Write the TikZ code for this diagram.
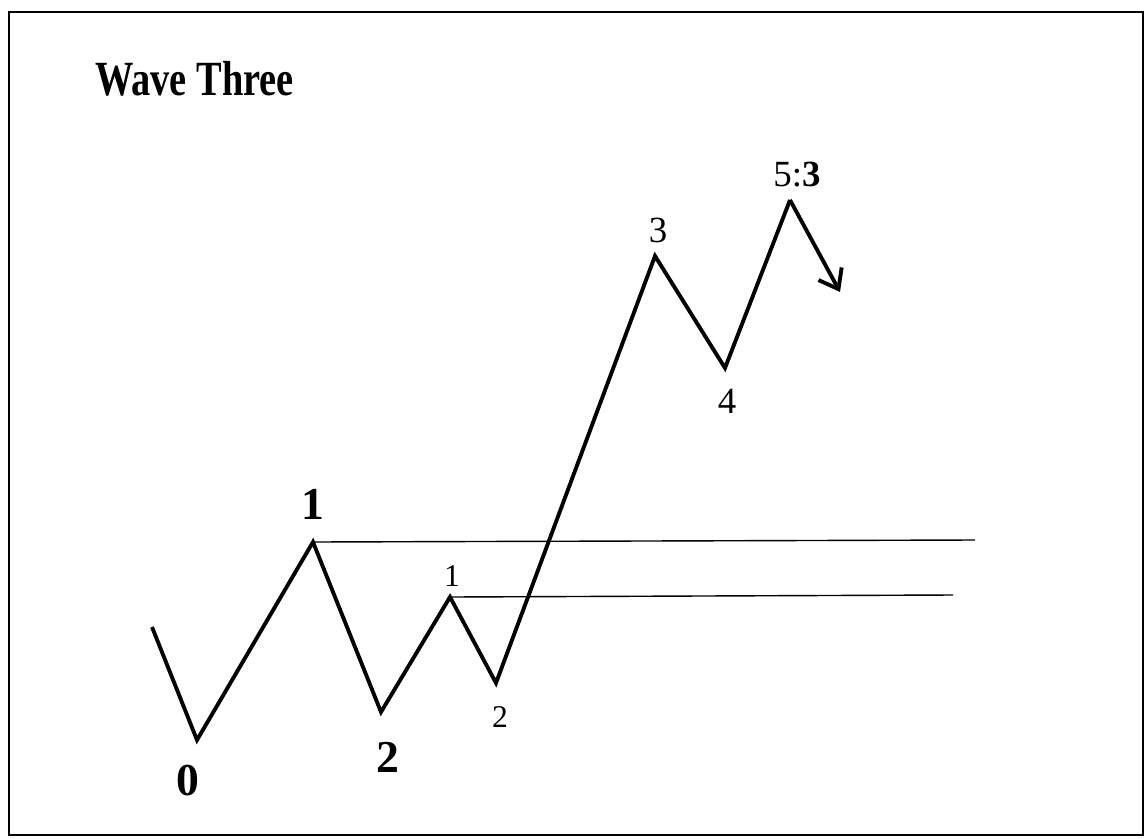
\documentclass[tikz,border=0pt]{standalone}
\usepackage{fontspec}
\setmainfont{Liberation Serif}
\usetikzlibrary{arrows.meta}

\begin{document}
\begin{tikzpicture}[
        x=0.02cm,
        y=-0.02cm,
        wave/.style={
            line width=2.2pt,
            line join=miter
        },
        level/.style={
            line width=0.8pt
        },
        biglabel/.style={
            font=\fontsize{26}{29}\selectfont\bfseries,
            inner sep=0pt
        },
        midlabel/.style={
            font=\fontsize{21}{24}\selectfont,
            inner sep=0pt
        },
        smalllabel/.style={
            font=\fontsize{18}{21}\selectfont,
            inner sep=0pt
        }
    ]
        \useasboundingbox (0,0) rectangle (1145,838);
        \draw[line width=1.2pt] (9,12) rectangle (1143,835);

        \node[anchor=west, inner sep=0pt, font=\fontsize{28}{31}\selectfont\bfseries]
            (title) at (95,79) {\scalebox{0.78}[1]{Wave Three}};

        % wave points
        \coordinate (start) at (152,627);
        \coordinate (w0) at (197,740);
        \coordinate (w1) at (313,542);
        \coordinate (w2) at (381,712);
        \coordinate (s1) at (450,597);
        \coordinate (s2) at (496,683);
        \coordinate (s3) at (655,256);
        \coordinate (s4) at (725,368);
        \coordinate (s5) at (790,200);
        \coordinate (tip) at (840,292);
        \coordinate (w1end) at (975,540);
        \coordinate (s1end) at (953,595);

        \draw[level] (w1) -- (w1end);
        \draw[level] (s1) -- (s1end);

        \draw[wave] (start) -- (w0) -- (w1) -- (w2) -- (s1) -- (s2) -- (s3) -- (s4) -- (s5);
        \draw[wave, -{Straight Barb[length=10pt, width=15pt, line width=2.2pt]}] (s5) -- (tip);

        \node[biglabel] (lab0) at (188,781) {0};
        \node[biglabel] (lab1) at (313,504) {1};
        \node[biglabel] (lab2) at (388,757) {2};
        \node[smalllabel] (sub1) at (452,576) {1};
        \node[smalllabel] (sub2) at (500,717) {2};
        \node[midlabel] (sub3) at (658,230) {3};
        \node[midlabel] (sub4) at (727,401) {4};
        \node[midlabel] (sub5) at (797,175) {5:\textbf{3}};

    \end{tikzpicture}
\end{document}
